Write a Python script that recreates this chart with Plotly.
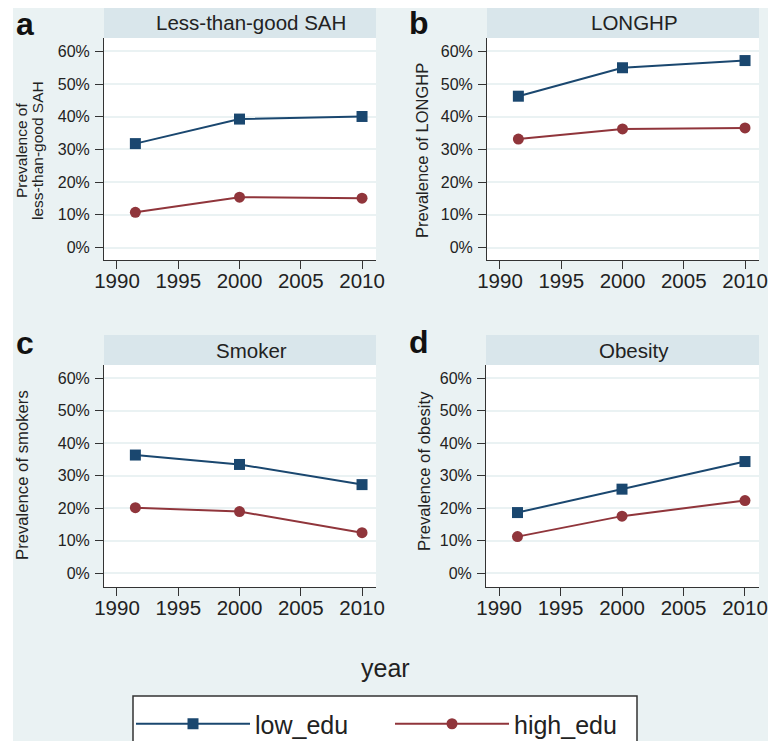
import plotly.graph_objects as go

# ---------------- data ----------------
years = [1991.5, 2000, 2010]
panel_titles = ["Less-than-good SAH", "LONGHP", "Smoker", "Obesity"]
panel_letters = ["a", "b", "c", "d"]
sah_low = [31.8, 39.3, 40.1]
sah_high = [10.8, 15.4, 15.1]
longhp_low = [46.3, 55.0, 57.2]
longhp_high = [33.2, 36.3, 36.6]
smoker_low = [36.3, 33.4, 27.2]
smoker_high = [20.1, 18.9, 12.4]
obesity_low = [18.6, 25.8, 34.3]
obesity_high = [11.2, 17.5, 22.3]
series_names = ["low_edu", "high_edu"]
y_tickvals = [0, 10, 20, 30, 40, 50, 60]
y_ticktext = ["0%", "10%", "20%", "30%", "40%", "50%", "60%"]
x_tickvals = [1990, 1995, 2000, 2005, 2010]

low_vals = [sah_low, longhp_low, smoker_low, obesity_low]
high_vals = [sah_high, longhp_high, smoker_high, obesity_high]

# ---------------- style / layout ----------------
W, H = 768, 741
FONT = "Liberation Sans, Arial, sans-serif"
NAVY = "#1A476F"
MAROON = "#90353B"
BG = "#EAF2F3"
STRIP = "#D9E6EB"
TXT = "#222222"
AX = "#333333"


def fx(px):
    return px / W


def fy(py):
    return 1 - py / H


# pixel boxes: (x0, x1, plot_top, plot_bottom, strip_top, yrange)
boxes = [
    (104, 376, 38, 260, 8, [-3.8, 64.1]),
    (487, 759, 38, 260, 8, [-3.8, 64.1]),
    (104, 376, 365, 587, 335, [-4.3, 64.0]),
    (486, 759, 365, 587, 335, [-4.3, 64.0]),
]
letter_pos = [(14, 24), (407, 23), (14, 343), (407, 342)]

fig = go.Figure()
shapes = []
annotations = []

for i in range(4):
    x0, x1, pt, pb, st, yr = boxes[i]
    sfx = "" if i == 0 else str(i + 1)
    xa, ya = "x" + sfx, "y" + sfx
    fig.add_trace(go.Scatter(
        x=years, y=low_vals[i], mode="lines+markers", name=series_names[0],
        line=dict(color=NAVY, width=2),
        marker=dict(symbol="square", size=11, color=NAVY),
        xaxis=xa, yaxis=ya, showlegend=(i == 0), legendrank=1))
    fig.add_trace(go.Scatter(
        x=years, y=high_vals[i], mode="lines+markers", name=series_names[1],
        line=dict(color=MAROON, width=2),
        marker=dict(symbol="circle", size=11, color=MAROON),
        xaxis=xa, yaxis=ya, showlegend=(i == 0), legendrank=2))

    fig.layout["xaxis" + sfx] = dict(
        domain=[fx(x0), fx(x1)], anchor=ya, range=[1988.94, 2011.14],
        tickvals=x_tickvals, ticks="outside", ticklen=8, tickcolor=AX,
        ticklabelstandoff=-6,
        showline=True, linecolor=AX, linewidth=1, showgrid=False, zeroline=False,
        tickfont=dict(size=20.5, color=TXT, family=FONT))
    fig.layout["yaxis" + sfx] = dict(
        domain=[fy(pb), fy(pt)], anchor=xa, range=yr,
        tickvals=y_tickvals, ticktext=y_ticktext, ticks="outside", ticklen=8,
        tickcolor=AX, showline=True, linecolor=AX, linewidth=1,
        ticklabelstandoff=2,
        showgrid=True, gridcolor=BG, gridwidth=1.5, zeroline=False,
        tickfont=dict(size=16, color=TXT, family=FONT))

    # strip
    shapes.append(dict(type="rect", xref="paper", yref="paper",
                       x0=fx(x0), x1=fx(x1), y0=fy(pt), y1=fy(st),
                       fillcolor=STRIP, line=dict(width=0), layer="below"))
    annotations.append(dict(text=panel_titles[i], xref="paper", yref="paper",
                            x=fx((x0 + x1) / 2 + 11), y=fy((pt + st) / 2),
                            xanchor="center", yanchor="middle", showarrow=False,
                            font=dict(size=20.5, color=TXT, family=FONT)))
    lx, ly = letter_pos[i]
    annotations.append(dict(text="<b>" + panel_letters[i] + "</b>", xref="paper",
                            yref="paper", x=fx(lx), y=fy(ly), xanchor="left",
                            yanchor="middle", showarrow=False,
                            font=dict(size=32, color="#111111", family=FONT)))

# y-axis titles
ytitles = [
    ("Prevalence of", 21, 151, 15.5),
    ("less-than-good SAH", 37, 151, 15.5),
    ("Prevalence of LONGHP", 422, 151, 16.5),
    ("Prevalence of smokers", 22, 475, 16.7),
    ("Prevalence of obesity", 424, 471, 16.7),
]
for t, px, py, fs in ytitles:
    annotations.append(dict(text=t, xref="paper", yref="paper", x=fx(px), y=fy(py),
                            xanchor="center", yanchor="middle", textangle=-90,
                            showarrow=False, font=dict(size=fs, color=TXT, family=FONT)))

annotations.append(dict(text="year", xref="paper", yref="paper", x=fx(385), y=fy(668),
                        xanchor="center", yanchor="middle", showarrow=False,
                        font=dict(size=25, color=TXT, family=FONT)))

# white page margins
shapes.append(dict(type="rect", xref="paper", yref="paper", x0=0, x1=fx(13), y0=0,
                   y1=1, fillcolor="white", line=dict(width=0), layer="below"))
shapes.append(dict(type="rect", xref="paper", yref="paper", x0=0, x1=1, y0=fy(8),
                   y1=1, fillcolor="white", line=dict(width=0), layer="below"))
# legend box (runs off the bottom edge, as in the reference)
shapes.append(dict(type="rect", xref="paper", yref="paper", x0=fx(133), x1=fx(637),
                   y0=fy(760), y1=fy(696), fillcolor="white",
                   line=dict(color=AX, width=1.5), layer="below"))

fig.update_layout(
    width=W, height=H, margin=dict(l=0, r=0, t=0, b=0, autoexpand=False),
    paper_bgcolor=BG, plot_bgcolor="white",
    font=dict(family=FONT, color=TXT),
    shapes=shapes, annotations=annotations,
    showlegend=True,
    legend=dict(orientation="h", x=fx(131), y=fy(724), xanchor="left",
                yanchor="middle", bgcolor="rgba(0,0,0,0)", borderwidth=0,
                font=dict(size=25, color=TXT, family=FONT),
                itemwidth=114,
                entrywidth=130, entrywidthmode="pixels", traceorder="normal"),
)

fig.write_html("out.html", config={"displayModeBar": False},
               post_script="document.body.style.margin='0';"
                           "document.documentElement.style.overflow='hidden';")
